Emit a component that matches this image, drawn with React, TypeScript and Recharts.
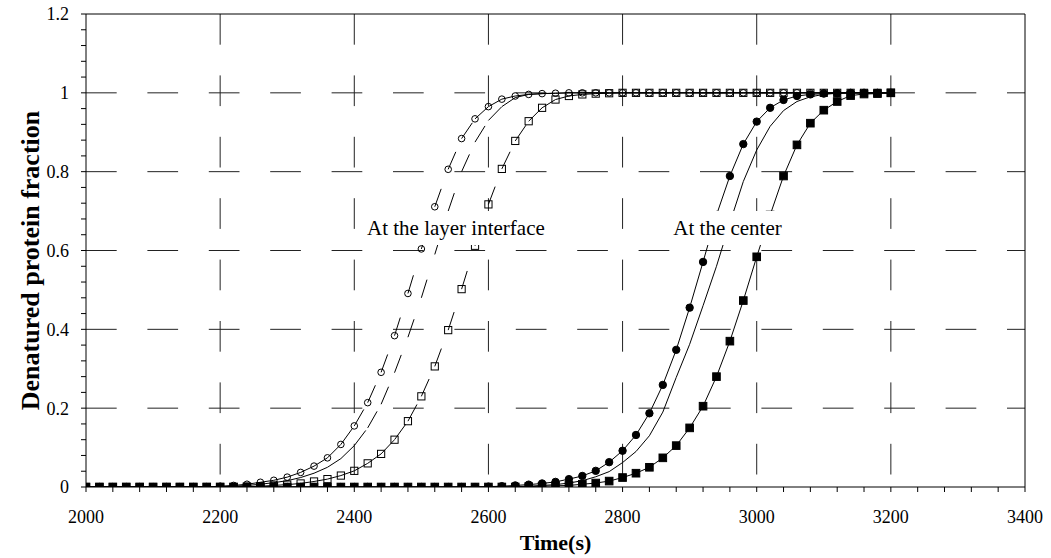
import {
  CartesianGrid,
  Label,
  Line,
  LineChart,
  ReferenceArea,
  ReferenceLine,
  XAxis,
  YAxis,
} from "recharts";

const FONT = '"Liberation Serif", "Times New Roman", serif';

// time axis (s), one sample every 20 s
const TIME = [
  2000, 2020, 2040, 2060, 2080, 2100, 2120, 2140, 2160, 2180,
  2200, 2220, 2240, 2260, 2280, 2300, 2320, 2340, 2360, 2380,
  2400, 2420, 2440, 2460, 2480, 2500, 2520, 2540, 2560, 2580,
  2600, 2620, 2640, 2660, 2680, 2700, 2720, 2740, 2760, 2780,
  2800, 2820, 2840, 2860, 2880, 2900, 2920, 2940, 2960, 2980,
  3000, 3020, 3040, 3060, 3080, 3100, 3120, 3140, 3160, 3180,
  3200,
];

// at the layer interface
const IFACE_CIRCLE = [
  0, 0, 0, 0, 0, 0, 0, 0, 0, 0,
  0.002, 0.004, 0.007, 0.012, 0.017, 0.025, 0.037, 0.053, 0.074, 0.108,
  0.155, 0.214, 0.291, 0.384, 0.491, 0.604, 0.711, 0.806, 0.884, 0.934,
  0.965, 0.984, 0.992, 0.996, 0.998, 0.999, 1, 1, 1, 1,
  1, 1, 1, 1, 1, 1, 1, 1, 1, 1,
  1, 1, 1, 1, 1, 1, 1, 1, 1, 1,
  1,
];
const IFACE_MID = [
  0, 0, 0, 0, 0, 0, 0, 0, 0, 0,
  0.001, 0.002, 0.004, 0.007, 0.011, 0.016, 0.024, 0.035, 0.05, 0.072,
  0.105, 0.15, 0.21, 0.29, 0.38, 0.48, 0.59, 0.7, 0.8, 0.875,
  0.93, 0.965, 0.988, 0.996, 0.998, 0.999, 1, 1, 1, 1,
  1, 1, 1, 1, 1, 1, 1, 1, 1, 1,
  1, 1, 1, 1, 1, 1, 1, 1, 1, 1,
  1,
];
const IFACE_SQUARE = [
  0, 0, 0, 0, 0, 0, 0, 0, 0, 0,
  0, 0, 0.001, 0.002, 0.004, 0.006, 0.009, 0.014, 0.02, 0.029,
  0.041, 0.06, 0.084, 0.12, 0.167, 0.23, 0.306, 0.398, 0.502, 0.612,
  0.717, 0.807, 0.878, 0.928, 0.962, 0.983, 0.992, 0.996, 0.998, 0.999,
  1, 1, 1, 1, 1, 1, 1, 1, 1, 1,
  1, 1, 1, 1, 1, 1, 1, 1, 1, 1,
  1,
];

// at the center
const CENTER_CIRCLE = [
  0, 0, 0, 0, 0, 0, 0, 0, 0, 0,
  0, 0, 0, 0, 0, 0, 0, 0, 0, 0,
  0, 0, 0, 0, 0, 0, 0, 0, 0, 0,
  0.001, 0.002, 0.004, 0.006, 0.009, 0.013, 0.02, 0.028, 0.041, 0.063,
  0.092, 0.132, 0.187, 0.259, 0.348, 0.455, 0.571, 0.69, 0.789, 0.87,
  0.927, 0.962, 0.982, 0.992, 0.996, 0.998, 0.999, 1, 1, 1,
  1,
];
const CENTER_MID = [
  0, 0, 0, 0, 0, 0, 0, 0, 0, 0,
  0, 0, 0, 0, 0, 0, 0, 0, 0, 0,
  0, 0, 0, 0, 0, 0, 0, 0, 0, 0,
  0, 0, 0.001, 0.002, 0.004, 0.006, 0.01, 0.016, 0.026, 0.039,
  0.062, 0.09, 0.13, 0.19, 0.278, 0.362, 0.46, 0.56, 0.67, 0.775,
  0.855, 0.915, 0.955, 0.978, 0.99, 0.996, 0.999, 1, 1, 1,
  1,
];
const CENTER_SQUARE = [
  0, 0, 0, 0, 0, 0, 0, 0, 0, 0,
  0, 0, 0, 0, 0, 0, 0, 0, 0, 0,
  0, 0, 0, 0, 0, 0, 0, 0, 0, 0,
  0, 0, 0, 0.001, 0.002, 0.003, 0.004, 0.007, 0.01, 0.015,
  0.024, 0.035, 0.05, 0.074, 0.105, 0.15, 0.205, 0.28, 0.37, 0.473,
  0.584, 0.69, 0.789, 0.868, 0.923, 0.956, 0.978, 0.993, 0.997, 0.998,
  1,
];

const X_TICKS = [
  2000, 2040, 2080, 2120, 2160, 2200, 2240, 2280, 2320, 2360, 2400, 2440,
  2480, 2520, 2560, 2600, 2640, 2680, 2720, 2760, 2800, 2840, 2880, 2920,
  2960, 3000, 3040, 3080, 3120, 3160, 3200, 3240, 3280, 3320, 3360, 3400,
];
const X_GRID = [2200, 2400, 2600, 2800, 3000, 3200];
const Y_TICKS = [
  0, 0.04, 0.08, 0.12, 0.16, 0.2, 0.24, 0.28, 0.32, 0.36, 0.4, 0.44, 0.48,
  0.52, 0.56, 0.6, 0.64, 0.68, 0.72, 0.76, 0.8, 0.84, 0.88, 0.92, 0.96, 1,
  1.04, 1.08, 1.12, 1.16, 1.2,
];
const Y_GRID = [0.2, 0.4, 0.6, 0.8, 1];

const data = TIME.map((t, i) => ({
  t,
  ic: IFACE_CIRCLE[i],
  im: IFACE_MID[i],
  is: IFACE_SQUARE[i],
  cc: CENTER_CIRCLE[i],
  cm: CENTER_MID[i],
  cs: CENTER_SQUARE[i],
}));

// every segment is its own subpath, so the dash pattern restarts at each point
const segmentCurve = (context: any) => {
  let prev: [number, number] | null = null;
  return {
    areaStart() {},
    areaEnd() {},
    lineStart() {
      prev = null;
    },
    lineEnd() {},
    point(x: number, y: number) {
      if (prev) {
        context.moveTo(prev[0], prev[1]);
        context.lineTo(+x, +y);
      }
      prev = [+x, +y];
    },
  };
};

const dotCircle = (filled: boolean) => (p: any) =>
  p.cx == null ? (
    <g key={p.index} />
  ) : (
    <circle
      key={p.index}
      cx={p.cx}
      cy={p.cy}
      r={filled ? 3.7 : 3.3}
      fill={filled ? "#000" : "none"}
      stroke="#000"
      strokeWidth={1}
    />
  );

const dotSquare = (filled: boolean) => (p: any) => {
  if (p.cx == null) return <g key={p.index} />;
  const h = filled ? 3.8 : 3.6;
  return (
    <rect
      key={p.index}
      x={p.cx - h}
      y={p.cy - h}
      width={h * 2}
      height={h * 2}
      fill={filled ? "#000" : "none"}
      stroke="#000"
      strokeWidth={1}
    />
  );
};

const fmtX = (v: number) => (v % 200 === 0 ? String(v) : "");
const fmtY = (v: number) =>
  Math.abs(v * 5 - Math.round(v * 5)) < 1e-6 ? String(Math.round(v * 10) / 10) : "";

const tickStyle = { fontSize: 18, fill: "#000", fontFamily: FONT };
const DASH = "19 40";

export default function App() {
  return (
    <div style={{ position: "absolute", left: 0, top: 0, width: 1051, height: 558, background: "#fff" }}>
      <LineChart
        width={1051}
        height={558}
        data={data}
        margin={{ top: 14, right: 26, left: 0, bottom: 0 }}
      >
        <CartesianGrid
          stroke="#222"
          strokeDasharray="30.7 30.7"
          horizontalValues={Y_GRID}
          verticalValues={X_GRID}
        />
        <XAxis
          dataKey="t"
          type="number"
          domain={[2000, 3400]}
          ticks={X_TICKS}
          interval={0}
          tickFormatter={fmtX}
          tick={tickStyle}
          tickSize={5}
          tickMargin={18}
          height={71}
          axisLine={{ stroke: "#000" }}
          tickLine={{ stroke: "#000" }}
          allowDataOverflow
        >
          <Label
            content={(props: any) => {
              const vb = props.viewBox;
              return (
                <text
                  x={vb.x + vb.width / 2}
                  y={vb.y + 63}
                  textAnchor="middle"
                  fontFamily={FONT}
                  fontWeight="bold"
                  fontSize={22}
                  fill="#000"
                >
                  Time(s)
                </text>
              );
            }}
          />
        </XAxis>
        <YAxis
          type="number"
          domain={[0, 1.2]}
          ticks={Y_TICKS}
          interval={0}
          tickFormatter={fmtY}
          tick={tickStyle}
          tickSize={5}
          tickMargin={12}
          width={86}
          axisLine={{ stroke: "#000" }}
          tickLine={{ stroke: "#000" }}
          allowDataOverflow
        >
          <Label
            content={(props: any) => {
              const vb = props.viewBox;
              const x = vb.x + 30;
              const y = vb.y + vb.height / 2 + 10;
              return (
                <text
                  x={x}
                  y={y}
                  transform={`rotate(-90, ${x}, ${y})`}
                  textAnchor="middle"
                  dominantBaseline="central"
                  fontFamily={FONT}
                  fontWeight="bold"
                  fontSize={26}
                  fill="#000"
                >
                  Denatured protein fraction
                </text>
              );
            }}
          />
        </YAxis>
        <ReferenceLine x={3400} stroke="#000" />
        <ReferenceLine y={1.2} stroke="#000" />

        <Line
          dataKey="ic"
          type={segmentCurve as any}
          stroke="#000"
          strokeWidth={1}
          strokeDasharray={DASH}
          dot={dotCircle(false)}
          activeDot={false}
          isAnimationActive={false}
        />
        <Line
          dataKey="im"
          type={segmentCurve as any}
          stroke="#000"
          strokeWidth={1}
          strokeDasharray={DASH}
          dot={false}
          activeDot={false}
          isAnimationActive={false}
        />
        <Line
          dataKey="is"
          type={segmentCurve as any}
          stroke="#000"
          strokeWidth={1}
          strokeDasharray={DASH}
          dot={dotSquare(false)}
          activeDot={false}
          isAnimationActive={false}
        />
        <Line
          dataKey="cc"
          type="linear"
          stroke="#000"
          strokeWidth={1}
          dot={dotCircle(true)}
          activeDot={false}
          isAnimationActive={false}
        />
        <Line
          dataKey="cm"
          type="linear"
          stroke="#000"
          strokeWidth={1}
          dot={false}
          activeDot={false}
          isAnimationActive={false}
        />
        <Line
          dataKey="cs"
          type="linear"
          stroke="#000"
          strokeWidth={1}
          dot={dotSquare(true)}
          activeDot={false}
          isAnimationActive={false}
        />

        <ReferenceArea
          x1={2408}
          x2={2695}
          y1={0.614}
          y2={0.7}
          fill="#fff"
          fillOpacity={1}
          stroke="none"
          zIndex={1500}
          label={{
            value: "At the layer interface",
            position: "center",
            fontSize: 21,
            fill: "#000",
            fontFamily: FONT,
          }}
        />
        <ReferenceArea
          x1={2868}
          x2={3045}
          y1={0.614}
          y2={0.7}
          fill="#fff"
          fillOpacity={1}
          stroke="none"
          zIndex={1500}
          label={{
            value: "At the center",
            position: "center",
            fontSize: 21,
            fill: "#000",
            fontFamily: FONT,
          }}
        />
      </LineChart>
    </div>
  );
}
